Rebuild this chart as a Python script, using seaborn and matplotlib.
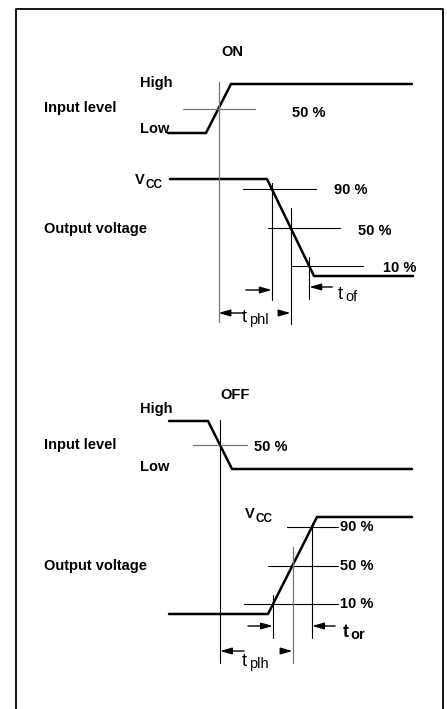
import matplotlib
matplotlib.use("Agg")
import matplotlib.pyplot as plt
import seaborn as sns

sns.set_style("white")
plt.rcParams["font.family"] = ["Liberation Sans", "DejaVu Sans"]
plt.rcParams["text.color"] = "black"

# waveform vertices (diagram pixel space): flat, edge start, edge end, flat
on_in_x = [168, 206, 231, 412]
on_in_y = [133, 133, 84, 84]
on_out_x = [170, 267, 314, 413]
on_out_y = [179, 179, 276, 276]
off_in_x = [169, 208, 232, 412]
off_in_y = [421, 421, 469, 469]
off_out_x = [169, 268, 317, 412]
off_out_y = [614, 614, 517, 517]

levels = [0.9, 0.5, 0.1]
level_labels = ["90 %", "50 %", "10 %"]


def edge_point(xs, ys, frac):
    # point on the switching edge at a fraction of the output swing
    x0, x1 = xs[1], xs[2]
    y0, y1 = ys[1], ys[2]
    hi, lo = min(ys), max(ys)
    y = lo + frac * (hi - lo)
    t = (y - y0) / (y1 - y0)
    return x0 + t * (x1 - x0), y


def arrow(ax, tail, head, y):
    ax.annotate("", xy=(head, y), xytext=(tail, y),
                arrowprops=dict(arrowstyle="-|>,head_length=0.7,head_width=0.2",
                                color="black", lw=1, shrinkA=0, shrinkB=0))


def tlabel(ax, x, y, sub, bold=False):
    w = "bold" if bold else "normal"
    ax.text(x, y, "t", fontsize=13, fontweight=w, va="baseline", ha="left")
    ax.text(x + 7, y + 2, sub, fontsize=10.5, fontweight=w, va="baseline", ha="left")


def vcc(ax, x, y):
    ax.text(x, y, "V", fontsize=10.5, fontweight="bold", va="baseline")
    ax.text(x + 11, y + 4, "CC", fontsize=8.5, fontweight="bold", va="baseline")


fig = plt.figure(figsize=(4.47, 7.09), dpi=100)
ax = fig.add_axes([0, 0, 1, 1])
ax.set_xlim(0, 447)
ax.set_ylim(709, 0)
ax.axis("off")

# frame
ax.plot([16, 16, 443, 443], [709, 9, 9, 709], color="black", lw=1.3)

for xs, ys in [(on_in_x, on_in_y), (on_out_x, on_out_y),
               (off_in_x, off_in_y), (off_out_x, off_out_y)]:
    sns.lineplot(x=xs, y=ys, sort=False, estimator=None, color="black",
                 lw=1.8, ax=ax)

thin = dict(color="black", lw=0.8)
grey = dict(color="#777777", lw=0.9)
bold = dict(fontsize=10.5, fontweight="bold")

# ---------------- ON ----------------
ax.text(232, 52, "ON", ha="center", va="center", **bold)
ax.text(140, 83, "High", va="center", **bold)
ax.text(44, 108, "Input level", va="center", **bold)
ax.text(140, 129, "Low", va="center", **bold)
ax.text(44, 229, "Output voltage", va="center", **bold)
vcc(ax, 135, 184)

xi, yi = edge_point(on_in_x, on_in_y, 0.5)
ax.plot([xi - 36, xi + 36], [yi, yi], **grey)
ax.plot([xi, xi], [82, 322], **grey)
ax.text(292, 113, "50 %", va="center", **bold)

xs90, ys90 = edge_point(on_out_x, on_out_y, 0.9)
xs50, ys50 = edge_point(on_out_x, on_out_y, 0.5)
xs10, ys10 = edge_point(on_out_x, on_out_y, 0.1)
ax.plot([xs90 - 29, xs90 + 44], [ys90, ys90], **thin)
ax.plot([xs50 - 23, xs50 + 49], [ys50, ys50], **thin)
ax.plot([xs50, xs50 + 72], [ys10, ys10], **thin)
ax.plot([xs90, xs90], [183, 300], **thin)
ax.plot([xs50, xs50], [208, 324], **thin)
ax.plot([xs10, xs10], [257, 299], **thin)
ax.text(334, 190, level_labels[0], va="center", **bold)
ax.text(358, 231, level_labels[1], va="center", **bold)
ax.text(383, 268, level_labels[2], va="center", **bold)

arrow(ax, xs90 - 26, xs90, 290)
arrow(ax, xs10 + 23, xs10, 287)
tlabel(ax, 338, 299, "of")
arrow(ax, xi + 25, xi, 313)
arrow(ax, xs50 - 12, xs50, 313)
tlabel(ax, 242, 322, "phl")

# ---------------- OFF ----------------
ax.text(235, 395, "OFF", ha="center", va="center", **bold)
ax.text(140, 409, "High", va="center", **bold)
ax.text(44, 445, "Input level", va="center", **bold)
ax.text(140, 467, "Low", va="center", **bold)
ax.text(44, 566, "Output voltage", va="center", **bold)
vcc(ax, 245, 518)

xi, yi = edge_point(off_in_x, off_in_y, 0.5)
ax.plot([xi - 27, xi + 27], [yi, yi], **grey)
ax.plot([xi, xi], [420, 663], **thin)
ax.text(254, 447, "50 %", va="center", **bold)

pts = [edge_point(off_out_x, off_out_y, lv) for lv in levels]
(xr90, yr90), (xr50, yr50), (xr10, yr10) = pts
ax.plot([xr90 - 25, 338], [yr90, yr90], **thin)
ax.plot([xr50 - 25, 338], [yr50, yr50], **thin)
ax.plot([xr10 - 29, 338], [yr10, yr10], **thin)
for (x, y), lab in zip(pts, level_labels):
    ax.text(340, y, lab, va="center", **bold)
ax.plot([xr10, xr10], [595, 638], **thin)
ax.plot([xr50, xr50], [547, 663], **grey)
ax.plot([xr90, xr90], [523, 638], **thin)

arrow(ax, xr10 - 25, xr10, 626)
arrow(ax, xr90 + 23, xr90, 626)
tlabel(ax, 343, 637, "or", bold=True)
arrow(ax, xi + 24, xi, 651)
arrow(ax, xr50 - 12, xr50, 651)
tlabel(ax, 242, 666, "plh")

fig.savefig("out.png", dpi=100)
